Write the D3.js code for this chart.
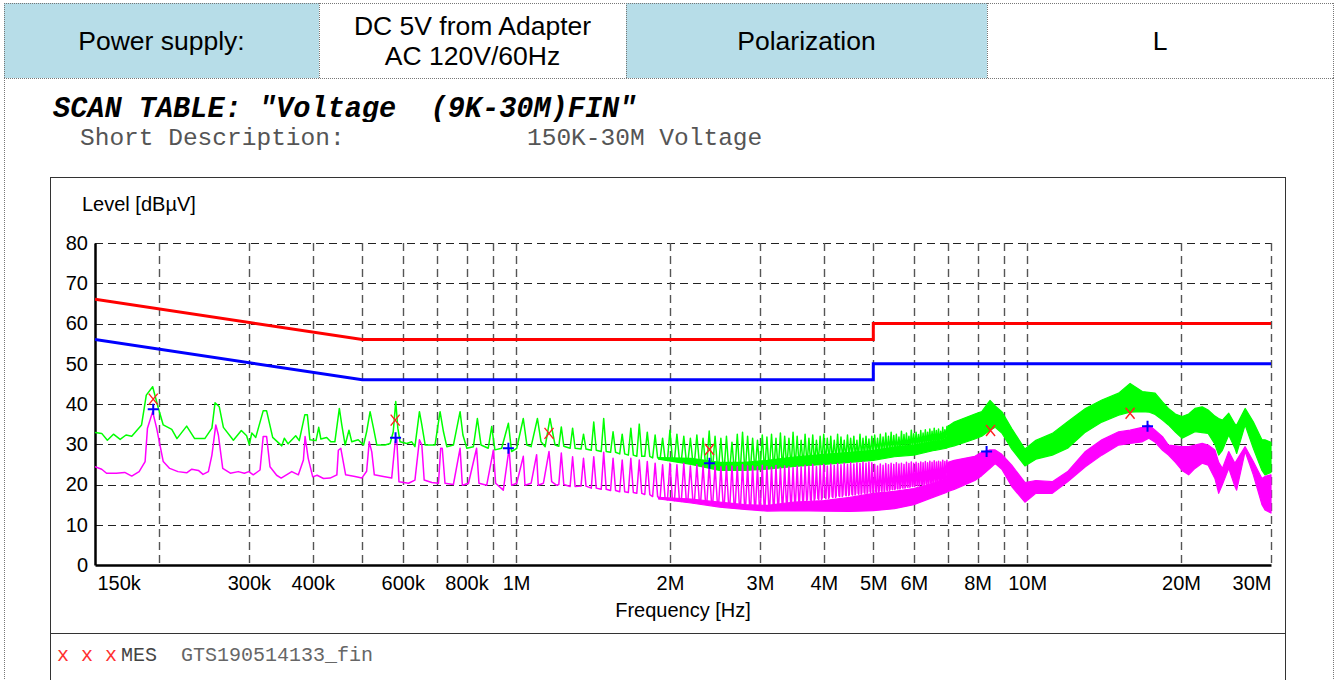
<!DOCTYPE html>
<html><head><meta charset="utf-8">
<script src="https://cdn.jsdelivr.net/npm/d3@7"></script>
<style>
html,body{margin:0;padding:0;background:#fff;}
svg{display:block;}
</style></head><body>
<svg id="c" width="1338" height="680"></svg>
<script>
// ---------------- DATA ----------------
const headerCells = [["Power supply:"], ["DC 5V from Adapter", "AC 120V/60Hz"], ["Polarization"], ["L"]];
const titleText = "SCAN TABLE: \"Voltage  (9K-30M)FIN\"";
const descLabel = "Short Description:";
const descValue = "150K-30M Voltage";
const legendMarks = "x x x";
const legendMes = "MES";
const legendFile = "GTS190514133_fin";

const yTicks = [0, 10, 20, 30, 40, 50, 60, 70, 80];
const xGrid = [0.2,0.3,0.4,0.5,0.6,0.7,0.8,0.9,1,2,3,4,5,6,7,8,9,10,20,30];
const xTickValues = [0.15,0.3,0.4,0.6,0.8,1,2,3,4,5,6,8,10,20,30];
const xTickLabels = ["150k","300k","400k","600k","800k","1M","2M","3M","4M","5M","6M","8M","10M","20M","30M"];

// limit lines (MHz, dBµV)
const limitFreq = [0.15, 0.5, 5, 5, 30];
const qpLimit = [66, 56, 56, 60, 60];
const avLimit = [56, 46, 46, 50, 50];

// QP (green) trace 150 kHz – 1.2 MHz, [MHz, dBµV]
const qpLow = [[0.150,32.9],[0.1546,32.7],[0.1586,31.0],[0.163,32.5],[0.168,31.2],[0.1725,32.3],[0.177,32.0],[0.185,34.8],[0.189,42.2],[0.1945,44.3],[0.1995,39.0],[0.204,34.8],[0.212,33.7],[0.217,31.4],[0.2267,34.5],[0.235,31.4],[0.246,31.4],[0.254,34.0],[0.2576,40.3],[0.2626,39.3],[0.2675,34.2],[0.2798,31.0],[0.290,33.4],[0.297,32.1],[0.3006,29.9],[0.304,32.8],[0.3095,31.7],[0.320,38.3],[0.325,38.3],[0.334,31.7],[0.348,29.6],[0.352,31.5],[0.358,30.1],[0.3705,32.1],[0.3765,30.9],[0.386,37.3],[0.3905,37.3],[0.395,31.1],[0.406,30.9],[0.411,34.2],[0.415,31.3],[0.426,31.7],[0.434,30.6],[0.442,30.6],[0.451,38.9],[0.456,34.8],[0.463,29.8],[0.471,33.5],[0.477,30.6],[0.491,31.1],[0.503,29.8],[0.510,33.1],[0.518,38.1],[0.526,34.0],[0.534,29.8],[0.554,29.8],[0.567,30.2],[0.575,33.1],[0.5815,40.6],[0.587,34.0],[0.593,30.6],[0.611,30.2],[0.625,30.6],[0.634,29.4],[0.647,38.1],[0.654,34.8],[0.664,29.8],[0.694,29.8],[0.710,38.1],[0.721,33.1],[0.732,29.4],[0.754,29.8],[0.777,38.1],[0.787,32.3],[0.801,29.0],[0.825,29.4],[0.840,36.4],[0.854,29.8],[0.882,29.0],[0.896,34.4],[0.909,28.6],[0.937,29.0],[0.966,35.2],[0.980,28.2],[1.003,29.0],[1.033,36.4],[1.050,29.8],[1.070,29.4],[1.101,36.4],[1.119,30.6],[1.140,29.4],[1.165,36.4],[1.192,29.8]];

// AV (magenta) trace 150 kHz – 1.2 MHz, [MHz, dBµV]
const avLow = [[0.150,24.4],[0.1546,23.8],[0.158,22.8],[0.165,22.8],[0.1715,23.0],[0.177,22.1],[0.183,23.2],[0.188,25.7],[0.190,34.0],[0.1945,38.1],[0.198,34.0],[0.204,25.7],[0.210,24.0],[0.218,23.2],[0.2267,22.9],[0.232,23.8],[0.239,23.5],[0.244,22.5],[0.250,23.2],[0.254,27.3],[0.2585,34.8],[0.2615,32.3],[0.2667,24.0],[0.276,22.8],[0.286,23.2],[0.294,22.8],[0.300,23.2],[0.306,22.4],[0.3155,23.6],[0.320,31.9],[0.325,31.9],[0.330,24.4],[0.340,22.3],[0.347,21.6],[0.364,23.2],[0.375,22.4],[0.3836,26.1],[0.3865,31.9],[0.392,26.5],[0.400,21.9],[0.408,22.3],[0.420,21.5],[0.4326,21.6],[0.446,22.4],[0.449,28.5],[0.454,29.0],[0.464,22.4],[0.484,22.0],[0.499,21.6],[0.510,23.3],[0.516,30.6],[0.522,28.1],[0.528,22.4],[0.550,22.0],[0.571,21.6],[0.580,30.6],[0.584,31.5],[0.590,20.7],[0.616,20.3],[0.634,21.1],[0.647,31.1],[0.654,29.8],[0.661,21.1],[0.684,20.5],[0.705,20.3],[0.712,29.0],[0.717,29.0],[0.726,20.3],[0.754,20.0],[0.777,29.0],[0.785,19.8],[0.807,20.3],[0.837,29.0],[0.846,20.3],[0.876,19.8],[0.903,28.6],[0.912,20.3],[0.944,18.6],[0.969,29.0],[0.980,19.8],[1.003,20.3],[1.033,27.0],[1.041,19.8],[1.070,20.3],[1.097,27.4],[1.105,19.8],[1.131,20.3],[1.160,28.2],[1.174,20.7],[1.201,19.8]];

// harmonic comb 1.2 – 7 MHz: spike frequency (MHz), peak and floor levels
const combFreq = [1.226,1.290,1.355,1.419,1.484,1.548,1.613,1.677,1.742,1.806,1.871,1.935,2.000,2.064,2.129,2.193,2.258,2.322,2.387,2.451,2.516,2.580,2.645,2.709,2.774,2.838,2.903,2.967,3.032,3.096,3.161,3.225,3.290,3.354,3.419,3.483,3.548,3.612,3.677,3.741,3.806,3.870,3.935,3.999,4.064,4.128,4.193,4.257,4.322,4.386,4.451,4.515,4.580,4.644,4.709,4.773,4.838,4.902,4.967,
  5.031,5.096,5.160,5.225,5.289,5.354,5.418,5.483,5.547,5.612,5.676,5.741,5.805,5.870,5.934,5.999,6.063,6.128,6.192,6.257,6.321,6.386,6.450,6.515,6.579,6.644,6.708,6.773,6.837,6.902,6.966];
const qpCombPeak = [34.3,34.0,32.5,35.5,36.4,33.1,32.5,34.0,35.0,33.0,32.3,31.5,33.5,32.5,32.0,31.5,32.3,31.5,33.3,32.0,31.5,32.0,30.5,32.5,33.0,32.0,31.5,31.0,32.3,31.8,32.5,31.5,32.8,32.0,31.5,33.0,32.0,31.0,32.5,31.5,32.3,31.0,32.0,32.5,31.5,32.0,31.0,32.5,31.8,31.0,32.3,31.5,32.0,31.0,32.5,31.5,32.0,31.3,32.0,
  32.3,31.5,32.5,31.8,32.8,32.0,33.0,32.2,32.5,31.8,33.2,32.4,32.8,32.0,33.5,32.6,33.0,32.4,33.4,32.8,33.6,33.0,33.8,33.2,34.0,33.4,33.8,33.2,34.2,33.6,34.4];
const qpCombFloor = [29.5,29.0,28.8,28.5,28.2,28.0,27.6,27.3,27.0,27.0,26.6,26.3,26.0,26.0,25.8,25.5,25.3,25.0,25.0,24.5,24.3,24.0,24.0,24.2,24.5,24.3,24.5,24.8,25.0,24.8,25.2,25.0,25.5,25.3,25.8,25.5,26.0,25.8,26.2,26.0,26.5,26.3,26.8,26.5,27.0,26.8,27.2,27.0,27.5,27.2,27.6,27.4,27.8,27.5,28.0,27.7,28.2,28.0,28.3,
  28.4,28.6,28.5,28.8,28.7,29.0,28.9,29.2,29.0,29.3,29.2,29.5,29.4,29.7,29.6,29.9,29.8,30.1,30.0,30.3,30.2,30.5,30.4,30.7,30.6,30.9,30.8,31.1,31.0,31.3,31.2];
const avCombPeak = [27.8,26.9,26.5,26.9,28.0,26.5,26.1,26.5,26.1,25.7,25.3,24.9,25.3,24.9,25.3,24.6,24.9,24.6,24.9,24.6,24.4,24.6,24.6,24.4,24.9,24.6,24.6,24.4,24.8,24.5,24.3,24.7,24.2,24.6,24.4,24.2,24.6,24.4,24.8,24.6,25.0,24.5,24.8,25.0,24.6,25.1,24.8,25.2,24.9,25.3,25.0,25.4,25.1,25.4,25.2,25.6,25.3,25.6,25.4,
  25.0,24.6,25.1,24.8,25.2,24.9,25.3,25.0,25.4,25.1,25.3,25.0,25.5,25.2,25.6,25.3,25.5,25.2,25.6,25.4,25.7,25.4,25.8,25.5,25.9,25.6,25.8,25.6,26.0,25.7,26.0];
const avCombFloor = [20.0,19.5,19.6,19.1,18.8,18.5,18.2,18.0,17.8,17.5,17.0,16.5,16.2,16.0,15.8,15.9,15.6,15.5,15.3,15.2,15.0,14.8,14.8,14.5,14.6,14.3,14.5,14.2,14.3,14.5,14.4,14.8,15.0,15.2,15.5,15.3,15.8,15.6,16.0,16.2,16.0,16.5,16.3,16.8,16.5,17.0,16.8,17.2,17.0,17.4,17.2,17.6,17.4,17.8,17.6,18.0,17.8,18.2,18.0,
  18.2,18.0,18.4,18.3,18.6,18.5,18.8,18.7,19.0,18.9,19.2,19.1,19.4,19.3,19.6,19.5,19.8,19.7,20.0,19.9,20.2,20.1,20.4,20.3,20.6,20.5,20.8,20.7,21.0,20.9,21.2];

// dense noise band 1.9 – 30 MHz: lower / upper edges
const bandFreq = [1.9,2.2,2.5,2.8,3.1,3.5,4.0,4.5,5.0,5.5,6.0,6.6,6.95,7.0,7.2,7.9,8.15,8.46,8.66,8.92,9.33,9.9,10.4,11.2,12.0,13.0,14.0,15.1,15.9,16.8,17.3,17.8,18.4,18.9,19.5,20.1,20.7,21.3,22.0,22.6,23.3,23.7,24.1,24.8,25.5,25.7,26.7,27.7,28.8,29.2,30];
const qpBandLo = [26.3,25.0,23.5,23.5,23.8,24.5,25.0,25.5,26.0,26.9,27.3,28.5,29.0,29.2,29.6,31.3,32.0,33.5,34.2,32.8,28.8,24.6,26.3,27.3,29.0,33.0,35.5,37.2,38.0,38.1,38.0,37.4,36.0,34.8,33.0,31.5,32.3,33.1,32.9,32.7,30.0,27.3,28.5,32.3,29.0,27.7,34.8,29.0,23.5,22.4,23.0];
const qpBandHi = [26.7,26.5,25.5,25.5,26.0,26.8,27.5,28.0,28.5,29.3,29.8,30.8,31.2,34.5,35.5,37.5,38.1,40.9,39.5,38.1,33.9,28.8,31.0,32.7,35.6,38.9,41.0,42.7,45.1,43.1,42.9,42.7,40.5,38.9,37.5,36.9,37.5,38.9,39.3,38.5,37.0,36.4,36.0,37.7,35.0,34.8,38.9,35.6,31.1,31.1,30.5];
const avBandLo = [16.4,15.4,14.4,13.8,13.4,13.5,13.4,13.3,13.5,14.0,15.0,17.0,18.0,18.3,18.8,21.0,22.2,24.0,25.2,23.8,19.5,15.6,17.8,17.8,20.7,24.4,27.3,29.8,30.2,30.6,31.5,30.5,28.5,27.3,25.5,23.5,22.4,24.0,25.3,24.8,21.5,17.8,20.0,24.0,19.5,18.6,28.2,22.4,15.0,13.7,12.9];
const avBandHi = [16.8,16.4,15.6,15.0,14.8,15.6,16.0,16.8,17.8,18.3,19.0,20.5,21.5,25.5,26.0,27.0,28.0,28.6,28.6,27.5,24.8,20.5,21.0,20.7,23.2,28.2,31.1,33.1,33.5,34.2,34.8,33.5,31.9,29.8,29.6,29.4,29.4,29.8,30.2,29.8,28.6,25.5,24.0,28.2,25.3,26.0,29.4,25.7,21.5,22.0,22.4];

// final measurement markers
const qpMarkFreq = [0.195, 0.580, 1.16, 2.39, 8.48, 15.9];
const qpMarkLevel = [41.2, 36.0, 32.7, 28.7, 33.4, 37.7];
const avMarkFreq = [0.195, 0.581, 0.966, 2.39, 8.33, 17.2];
const avMarkLevel = [38.7, 31.6, 29.0, 25.3, 28.2, 34.5];

// ---------------- DRAWING ----------------
const svg = d3.select("#c");
const SANS = "'Liberation Sans', Arial, sans-serif";
const MONO = "'Courier New', 'Liberation Mono', monospace";

// header table
const cellEdges = [4, 319, 626, 987, 1333];
const cellFill = ["#b7dde8", "#ffffff", "#b7dde8", "#ffffff"];
const hdr = svg.append("g");
headerCells.forEach((lines, i) => {
  const x0 = cellEdges[i], x1 = cellEdges[i + 1];
  hdr.append("rect").attr("x", x0).attr("y", 3).attr("width", x1 - x0).attr("height", 75).attr("fill", cellFill[i]);
  const cy = 41, lh = 30;
  lines.forEach((t, j) => {
    hdr.append("text").attr("x", (x0 + x1) / 2).attr("y", cy + (j - (lines.length - 1) / 2) * lh)
      .attr("text-anchor", "middle").attr("dominant-baseline", "central")
      .style("font-family", SANS).style("font-size", "26.5px").attr("fill", "#000").text(t);
  });
});
const dotted = (x1, y1, x2, y2) => svg.append("line").attr("x1", x1).attr("y1", y1).attr("x2", x2).attr("y2", y2)
  .attr("stroke", "#777").attr("stroke-width", 1).attr("stroke-dasharray", "1,1");
dotted(4, 3.5, 1333, 3.5);
dotted(4, 78.5, 1333, 78.5);
cellEdges.forEach(x => dotted(x + 0.5, 3, x + 0.5, 78));
dotted(4.5, 78, 4.5, 680);
dotted(1333.5, 78, 1333.5, 680);

// title
svg.append("defs").append("clipPath").attr("id", "tclip").append("rect").attr("x", 0).attr("y", 90).attr("width", 1338).attr("height", 32);
svg.append("text").attr("x", 53).attr("y", 117).attr("clip-path", "url(#tclip)")
  .style("font-family", MONO).style("font-size", "28.6px").style("font-weight", "bold").style("font-style", "italic")
  .attr("fill", "#000").style("white-space", "pre").text(titleText);
svg.append("text").attr("x", 80).attr("y", 145).style("font-family", MONO).style("font-size", "24.5px").attr("fill", "#555").text(descLabel);
svg.append("text").attr("x", 527).attr("y", 145).style("font-family", MONO).style("font-size", "24.5px").attr("fill", "#555").text(descValue);

// chart frame
svg.append("rect").attr("x", 50.5).attr("y", 177.5).attr("width", 1235).attr("height", 520).attr("fill", "none").attr("stroke", "#333").attr("stroke-width", 1);
svg.append("line").attr("x1", 50).attr("x2", 1285).attr("y1", 633.5).attr("y2", 633.5).attr("stroke", "#333");

// scales
const x = d3.scaleLog().domain([0.15, 30]).range([95, 1271]);
const y = d3.scaleLinear().domain([0, 80]).range([565, 243]);

// grid
const grid = svg.append("g");
grid.selectAll(".hg").data(yTicks.filter(v => v > 0)).join("line")
  .attr("x1", x(0.15)).attr("x2", x(30)).attr("y1", d => Math.round(y(d)) + 0.5).attr("y2", d => Math.round(y(d)) + 0.5)
  .attr("stroke", "#222").attr("stroke-width", 1.2).attr("stroke-dasharray", "8,5");
grid.selectAll(".vg").data(xGrid).join("line")
  .attr("x1", d => Math.round(x(d)) + 0.5).attr("x2", d => Math.round(x(d)) + 0.5).attr("y1", y(80)).attr("y2", y(0))
  .attr("stroke", "#555").attr("stroke-width", 1.4).attr("stroke-dasharray", "8,5");

// axes
const yAxis = svg.append("g").attr("transform", `translate(${x(0.15)},0)`)
  .call(d3.axisLeft(y).tickValues(yTicks).tickSize(0).tickPadding(7).tickSizeOuter(0));
yAxis.select(".domain").attr("stroke", "#000").attr("stroke-width", 2.5);
yAxis.selectAll("text").style("font-family", SANS).style("font-size", "20px").attr("fill", "#000");

const xAxis = svg.append("g").attr("transform", `translate(0,${y(0)})`)
  .call(d3.axisBottom(x).tickValues(xTickValues).tickFormat((d, i) => xTickLabels[i]).tickSize(0).tickPadding(11).tickSizeOuter(0));
xAxis.select(".domain").attr("stroke", "#000").attr("stroke-width", 2.5);
xAxis.selectAll("text").style("font-family", SANS).style("font-size", "20px").attr("fill", "#000")
  .attr("text-anchor", (d, i) => i === 0 ? "start" : (i === xTickValues.length - 1 ? "end" : "middle"))
  .attr("dx", (d, i) => i === 0 ? 2 : 0);

svg.append("text").attr("x", 82).attr("y", 211).style("font-family", SANS).style("font-size", "20px").attr("fill", "#000").text("Level [dBµV]");
svg.append("text").attr("x", (x(0.15) + x(30)) / 2).attr("y", 617).attr("text-anchor", "middle").style("font-family", SANS).style("font-size", "20px").attr("fill", "#000").text("Frequency [Hz]");

// plot clip
svg.append("defs").append("clipPath").attr("id", "pclip").append("rect").attr("x", x(0.15)).attr("y", y(80) - 2).attr("width", x(30) - x(0.15) + 2).attr("height", y(0) - y(80) + 2);
const plot = svg.append("g").attr("clip-path", "url(#pclip)");

const lineGen = d3.line();
function tracePath(low, peaks, floors) {
  const pts = low.map(d => [x(d[0]), y(d[1])]);
  combFreq.forEach((f, i) => {
    const xc = x(f);
    const next = i < combFreq.length - 1 ? x(combFreq[i + 1]) : xc + 3;
    const hw = Math.min(2.5, 0.4 * (next - xc));
    pts.push([xc - hw, y(floors[i])], [xc, y(peaks[i])], [xc + hw, y(floors[i])]);
  });
  return lineGen(pts);
}

function drawTrace(color, low, peaks, floors, lo, hi) {
  plot.append("path")
    .attr("d", d3.area().x((d, i) => x(bandFreq[i])).y0((d, i) => y(lo[i])).y1((d, i) => y(hi[i]))(bandFreq))
    .attr("fill", color).attr("stroke", color).attr("stroke-width", 1.2).attr("stroke-linejoin", "round");
  plot.append("path").attr("d", tracePath(low, peaks, floors))
    .attr("fill", "none").attr("stroke", color).attr("stroke-width", 1.5).attr("stroke-linejoin", "round");
}
drawTrace("#00ff00", qpLow, qpCombPeak, qpCombFloor, qpBandLo, qpBandHi);
drawTrace("#ff00ff", avLow, avCombPeak, avCombFloor, avBandLo, avBandHi);

// limit lines
const limLine = d3.line().x((d, i) => x(limitFreq[i])).y(d => y(d));
plot.append("path").attr("d", limLine(qpLimit)).attr("fill", "none").attr("stroke", "#ff0000").attr("stroke-width", 3);
plot.append("path").attr("d", limLine(avLimit)).attr("fill", "none").attr("stroke", "#0000ff").attr("stroke-width", 3);

// markers
const mk = svg.append("g");
qpMarkFreq.forEach((f, i) => {
  const cx = x(f), cy = y(qpMarkLevel[i]);
  mk.append("path").attr("d", `M${cx - 4.5},${cy - 5.5}L${cx + 4.5},${cy + 5.5}M${cx + 4.5},${cy - 5.5}L${cx - 4.5},${cy + 5.5}`)
    .attr("stroke", "#ff2020").attr("stroke-width", 1.4).attr("fill", "none");
});
avMarkFreq.forEach((f, i) => {
  const cx = x(f), cy = y(avMarkLevel[i]);
  mk.append("path").attr("d", `M${cx - 5.5},${cy}L${cx + 5.5},${cy}M${cx},${cy - 5.5}L${cx},${cy + 5.5}`)
    .attr("stroke", "#0000ff").attr("stroke-width", 2).attr("fill", "none");
});

// legend
svg.append("text").attr("x", 57).attr("y", 661).style("font-family", MONO).style("font-size", "20px").attr("fill", "#ff3030").style("white-space", "pre").text(legendMarks);
svg.append("text").attr("x", 121).attr("y", 661).style("font-family", MONO).style("font-size", "20px").attr("fill", "#444").text(legendMes);
svg.append("text").attr("x", 181).attr("y", 661).style("font-family", MONO).style("font-size", "20px").attr("fill", "#666").text(legendFile);
</script></body></html>
